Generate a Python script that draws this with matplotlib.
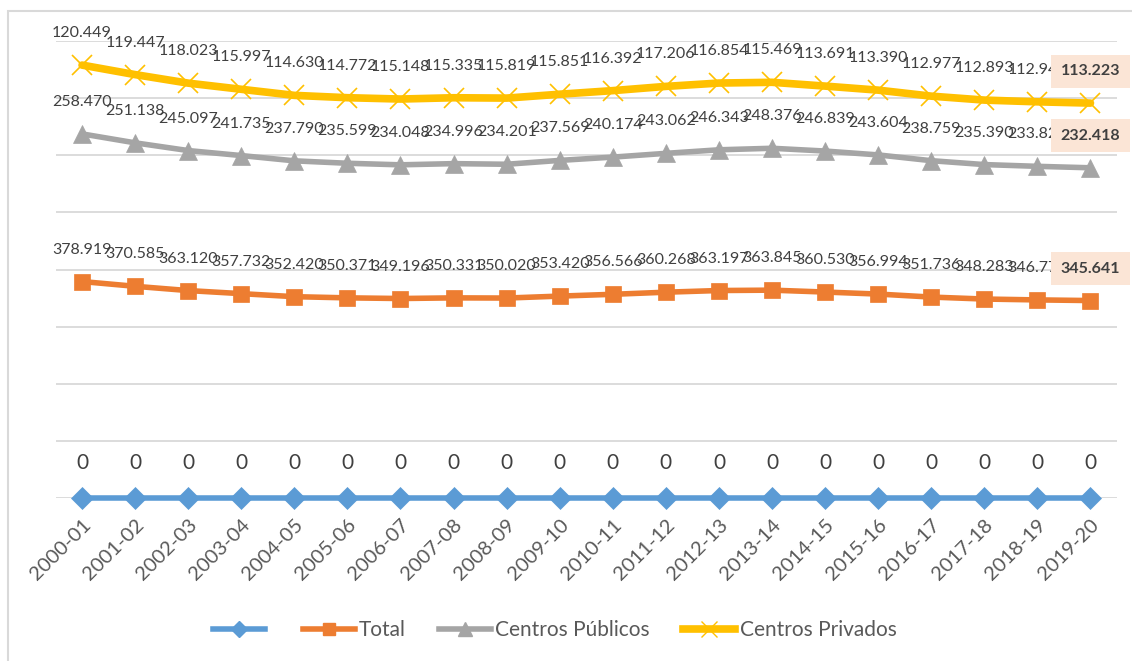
import matplotlib.pyplot as plt
from matplotlib.lines import Line2D
from matplotlib.patches import Rectangle
import numpy as np

plt.rcParams['font.family'] = ['Lato', 'DejaVu Sans']

cursos = ['2000-01', '2001-02', '2002-03', '2003-04', '2004-05', '2005-06',
          '2006-07', '2007-08', '2008-09', '2009-10', '2010-11', '2011-12',
          '2012-13', '2013-14', '2014-15', '2015-16', '2016-17', '2017-18',
          '2018-19', '2019-20']

serie_vacia = [0] * 20
total = [378919, 370585, 363120, 357732, 352420, 350371, 349196, 350331,
         350020, 353420, 356566, 360268, 363197, 363845, 360530, 356994,
         351736, 348283, 346771, 345641]
publicos = [258470, 251138, 245097, 241735, 237790, 235599, 234048, 234996,
            234201, 237569, 240174, 243062, 246343, 248376, 246839, 243604,
            238759, 235390, 233827, 232418]
privados = [120449, 119447, 118023, 115997, 114630, 114772, 115148, 115335,
            115819, 115851, 116392, 117206, 116854, 115469, 113691, 113390,
            112977, 112893, 112944, 113223]

nombres = ['', 'Total', 'Centros Públicos', 'Centros Privados']
colores = ['#5B9BD5', '#ED7D31', '#A5A5A5', '#FFC000']
marcadores = ['D', 's', '^', 'x']
tam_marca = [11, 12, 13, 14]
grosor = [4, 4, 4, 5.5]


def fmt(v):
    # thousands separator with a dot
    return '{:,}'.format(v).replace(',', '.')


fig = plt.figure(figsize=(11.32, 6.61), dpi=100)
fig.add_artist(Rectangle((8 / 1132, -0.1), 1.2, 1 - 11 / 661 + 0.1,
                         transform=fig.transFigure, fill=False,
                         edgecolor='#D9D9D9', linewidth=1.5))
ax = fig.add_axes([55.5 / 1132, 163 / 661, 1061.5 / 1132, 457 / 661])

x = np.arange(len(cursos))
series = [serie_vacia, total, publicos, privados]

# stacked lines: each series is drawn on top of the previous ones
base = np.zeros(len(cursos))
for i, s in enumerate(series):
    y = base + np.array(s)
    ax.plot(x, y, color=colores[i], linewidth=grosor[i], marker=marcadores[i],
            markersize=tam_marca[i], markeredgewidth=1.2 if i == 3 else 0.5,
            markeredgecolor=colores[i], zorder=3 + i, solid_capstyle='round',
            clip_on=False)
    for j, v in enumerate(s):
        if i == 0:
            ax.annotate(str(v), (x[j], y[j]), xytext=(0, 25),
                        textcoords='offset points', ha='center', va='center',
                        fontsize=15, color='#404040', zorder=10)
        elif j == len(s) - 1:
            ax.annotate(fmt(v), (x[j], y[j]), xytext=(0, 23),
                        textcoords='offset points', ha='center', va='center',
                        fontsize=11.5, fontweight='bold', color='#404040',
                        zorder=12,
                        bbox=dict(boxstyle='square,pad=0.6', fc='#FBE5D6',
                                  ec='none'))
        else:
            ax.annotate(fmt(v), (x[j], y[j]), xytext=(0, 23),
                        textcoords='offset points', ha='center', va='center',
                        fontsize=11.5, color='#404040', zorder=10)
    base = y

ax.set_xlim(-0.5, len(cursos) - 0.5)
ax.set_ylim(0, 800000)
ax.set_yticks(np.arange(0, 800001, 100000))
ax.grid(axis='y', color='#D9D9D9', linewidth=1.3)
ax.set_axisbelow(True)
for sp in ax.spines.values():
    sp.set_visible(False)
ax.tick_params(axis='y', left=False, labelleft=False)
ax.tick_params(axis='x', length=0, pad=13)
ax.set_xticks(x)
ax.set_xticklabels(cursos, rotation=45, ha='right', rotation_mode='anchor',
                   fontsize=14.5, color='#595959')

handles = [Line2D([], [], color=colores[i], linewidth=grosor[i],
                  marker=marcadores[i], markersize=tam_marca[i] - 3,
                  markeredgecolor=colores[i]) for i in range(4)]
fig.legend(handles, nombres, loc='center', bbox_to_anchor=(0.49, 0.047),
           ncol=4, frameon=False, fontsize=15, handlelength=2.5,
           handletextpad=0.2, columnspacing=1.6, labelcolor='#595959')

fig.savefig('out.png', dpi=100)
